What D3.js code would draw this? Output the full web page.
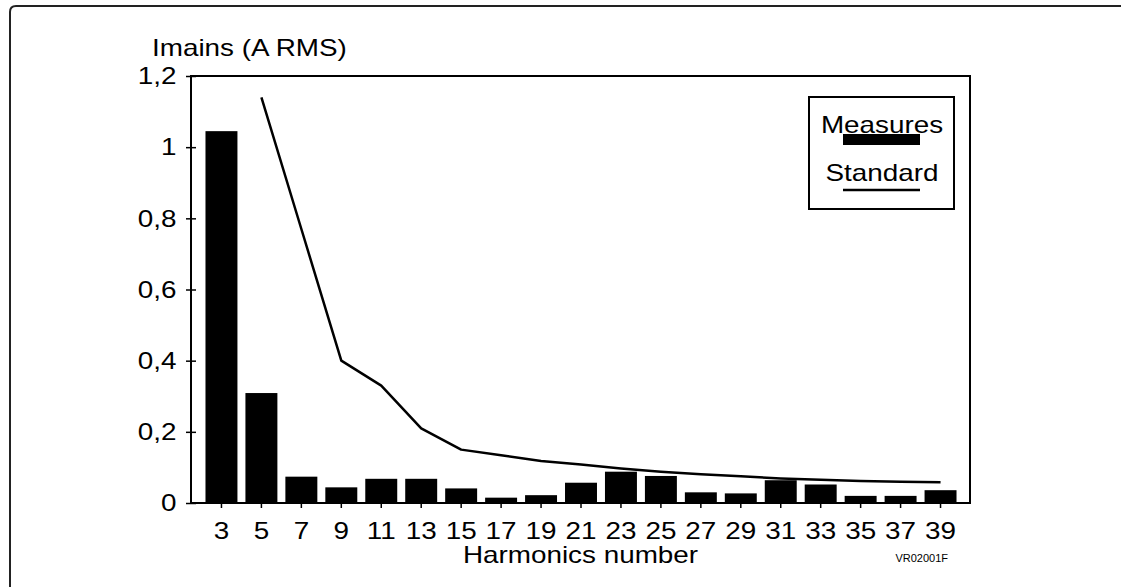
<!DOCTYPE html>
<html>
<head>
<meta charset="utf-8">
<script src="https://cdn.jsdelivr.net/npm/d3@7"></script>
<style>
  body { margin: 0; background: #fff; }
  svg { display: block; font-family: "Liberation Sans", Arial, sans-serif; }
</style>
</head>
<body>
<script>
// harmonic ranks on the x axis
var harmonics = [3, 5, 7, 9, 11, 13, 15, 17, 19, 21, 23, 25, 27, 29, 31, 33, 35, 37, 39];
// measured current per harmonic (A RMS)
var measures = [1.045, 0.309, 0.074, 0.044, 0.068, 0.068, 0.041, 0.015, 0.022, 0.057,
                0.088, 0.076, 0.030, 0.027, 0.064, 0.052, 0.020, 0.020, 0.036];
// limit curve from the standard, starts at rank 5
var standardH = [5, 7, 9, 11, 13, 15, 17, 19, 21, 23, 25, 27, 29, 31, 33, 35, 37, 39];
var standard = [1.14, 0.77, 0.40, 0.33, 0.21, 0.15, 0.134, 0.118, 0.108, 0.097,
                0.088, 0.081, 0.075, 0.069, 0.065, 0.062, 0.060, 0.058];
var yTicks = [0, 0.2, 0.4, 0.6, 0.8, 1, 1.2];

var W = 1121, H = 587;
var SX = 1.16; // text in the picture is a bit wide
// note: "top" is taken by window.top, so use other names
var plotL = 191, plotR = 970, plotT = 76, plotB = 503;

var svg = d3.select("body").append("svg")
    .attr("width", W)
    .attr("height", H);

// outer border, runs off right and bottom
svg.append("path")
    .attr("d", "M10," + (H + 5) + " L10,12 Q10,6 16,6 L" + (W + 5) + ",6")
    .attr("fill", "none")
    .attr("stroke", "#222")
    .attr("stroke-width", 2);

var x = d3.scaleBand()
    .domain(harmonics)
    .range([plotL + 1, plotR])
    .paddingInner(0.2)
    .paddingOuter(0.3375);

var y = d3.scaleLinear()
    .domain([0, 1.2])
    .range([plotB, plotT]);

// plot frame
svg.append("rect")
    .attr("x", plotL).attr("y", plotT)
    .attr("width", plotR - plotL).attr("height", plotB - plotT)
    .attr("fill", "none")
    .attr("stroke", "#000")
    .attr("stroke-width", 2);

// bars
svg.append("g").selectAll("rect")
    .data(harmonics)
    .join("rect")
    .attr("x", function(d) { return x(d); })
    .attr("y", function(d, i) { return y(measures[i]); })
    .attr("width", x.bandwidth())
    .attr("height", function(d, i) { return plotB - y(measures[i]); })
    .attr("fill", "#000");

// standard line
var line = d3.line()
    .x(function(d) { return x(d) + x.bandwidth() / 2; })
    .y(function(d, i) { return y(standard[i]); });

svg.append("path")
    .datum(standardH)
    .attr("d", line)
    .attr("fill", "none")
    .attr("stroke", "#000")
    .attr("stroke-width", 2.5)
    .attr("stroke-linejoin", "round");

// y axis
var fmt = d3.format("~g");
var gy = svg.append("g")
    .attr("transform", "translate(" + plotL + ",0)")
    .call(d3.axisLeft(y).tickValues(yTicks).tickSize(6)
        .tickFormat(function(d) { return fmt(d).replace(".", ","); }));
gy.select(".domain").remove();
gy.selectAll(".tick line").attr("x1", 5).attr("x2", -5).attr("stroke-width", 1.5);
gy.selectAll(".tick text")
    .attr("x", -12.5)
    .attr("transform", "scale(" + SX + ",1)")
    .attr("font-size", 24)
    .attr("font-family", null)
    .attr("fill", "#000");

// x axis
var gx = svg.append("g")
    .attr("transform", "translate(0," + plotB + ")")
    .call(d3.axisBottom(x).tickSize(5).tickPadding(14));
gx.select(".domain").remove();
gx.selectAll(".tick line").attr("stroke-width", 1.5);
gx.selectAll(".tick text")
    .attr("transform", "scale(" + SX + ",1)")
    .attr("font-size", 24)
    .attr("font-family", null)
    .attr("fill", "#000");

// axis titles
svg.append("text")
    .attr("transform", "translate(152,56) scale(" + SX + ",1)")
    .attr("font-size", 24)
    .text("Imains (A RMS)");

svg.append("text")
    .attr("transform", "translate(" + (plotL + plotR) / 2 + ",563) scale(" + SX + ",1)")
    .attr("text-anchor", "middle")
    .attr("font-size", 24)
    .text("Harmonics number");

svg.append("text")
    .attr("x", 948).attr("y", 562)
    .attr("text-anchor", "end")
    .attr("font-size", 11)
    .text("VR02001F");

// legend
var lg = svg.append("g").attr("transform", "translate(809,97)");
lg.append("rect")
    .attr("width", 145).attr("height", 112)
    .attr("fill", "#fff")
    .attr("stroke", "#000")
    .attr("stroke-width", 2);
lg.append("text")
    .attr("transform", "translate(73,36) scale(" + SX + ",1)")
    .attr("text-anchor", "middle")
    .attr("font-size", 24)
    .text("Measures");
lg.append("rect")
    .attr("x", 34).attr("y", 37)
    .attr("width", 77).attr("height", 11)
    .attr("fill", "#000");
lg.append("text")
    .attr("transform", "translate(73,84) scale(" + SX + ",1)")
    .attr("text-anchor", "middle")
    .attr("font-size", 24)
    .text("Standard");
lg.append("line")
    .attr("x1", 34).attr("x2", 111)
    .attr("y1", 93).attr("y2", 93)
    .attr("stroke", "#000")
    .attr("stroke-width", 2.5);
</script>
</body>
</html>
